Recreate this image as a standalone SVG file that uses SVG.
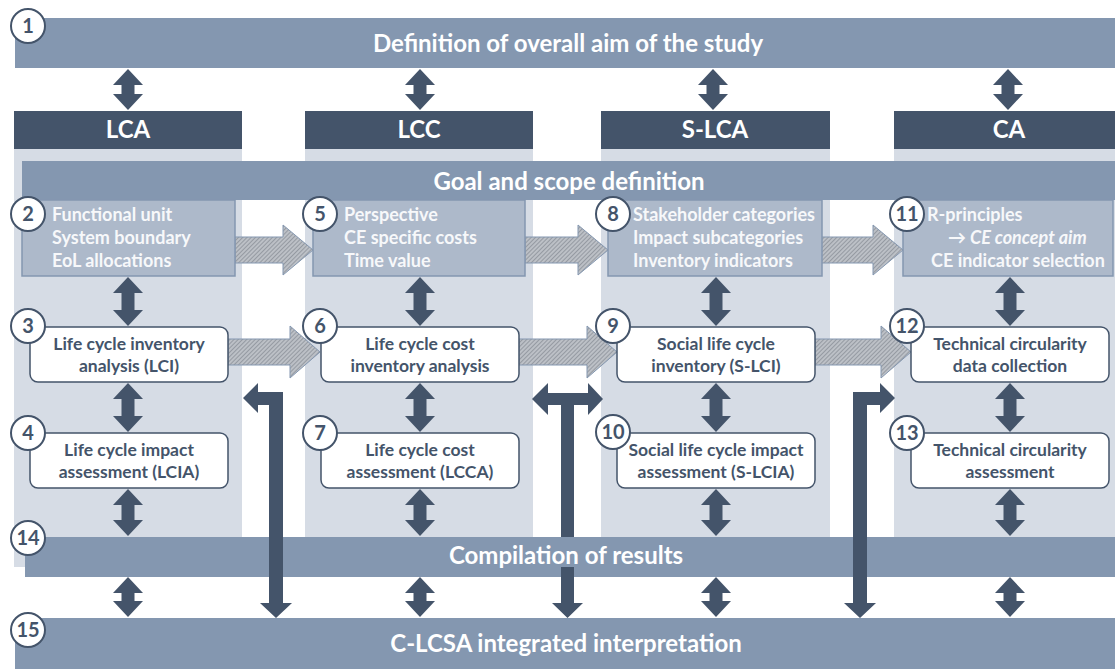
<svg xmlns="http://www.w3.org/2000/svg" width="1115" height="669" viewBox="0 0 1115 669">
<style>
text{font-family:Lato,"Open Sans","Liberation Sans",sans-serif;font-weight:700}
.bar{fill:#8497B0}
.hdr{fill:#44546A}
.col{fill:#D6DCE5}
.bt{fill:#FFFFFF;font-size:24px;text-anchor:middle}
.gbox{fill:#ADB9CA;stroke:#8497B0;stroke-width:1.5}
.gt{fill:#F7F8FA;font-size:18px}
.box{fill:#FFFFFF;stroke:#44546A;stroke-width:1.5}
.xt{fill:#44546A;font-size:17.5px;text-anchor:middle}
.num circle{fill:#FFFFFF;stroke:#44546A;stroke-width:2}
.num text{fill:#44546A;font-size:20px;text-anchor:middle}
.dark{fill:#44546A}
.hatch{fill:url(#hp);stroke:#8497B0;stroke-width:1}
</style>
<defs>
<pattern id="hp" width="3" height="3" patternUnits="userSpaceOnUse" patternTransform="rotate(45)">
<rect width="3" height="3" fill="#BCC0C6"/>
<line x1="0" y1="0" x2="0" y2="3" stroke="#7A8089" stroke-width="1.2"/>
</pattern>
<path id="da" d="M0,69 L15,85 L6.5,85 L6.5,94 L15,94 L0,110 L-15,94 L-6.5,94 L-6.5,85 L-15,85 Z"/>
<path id="db" d="M0,277 L15,293 L6.5,293 L6.5,310 L15,310 L0,326 L-15,310 L-6.5,310 L-6.5,293 L-15,293 Z"/>
<path id="dc" d="M0,383 L15,399 L6.5,399 L6.5,416 L15,416 L0,432 L-15,416 L-6.5,416 L-6.5,399 L-15,399 Z"/>
<path id="dd" d="M0,489 L15,505 L6.5,505 L6.5,520 L15,520 L0,536 L-15,520 L-6.5,520 L-6.5,505 L-15,505 Z"/>
<path id="de" d="M0,577 L15,593 L6.5,593 L6.5,601 L15,601 L0,617 L-15,601 L-6.5,601 L-6.5,593 L-15,593 Z"/>
</defs>

<rect width="1115" height="669" fill="#FFFFFF"/>

<g id="columns">
<rect class="col" x="14" y="149" width="228" height="418"/>
<rect class="col" x="305" y="149" width="228" height="418"/>
<rect class="col" x="601" y="149" width="229" height="418"/>
<rect class="col" x="894" y="149" width="221" height="418"/>
</g>

<g id="n1">
<rect class="bar" x="15" y="18" width="1100" height="50"/>
<text class="bt" x="568" y="52">Definition of overall aim of the study</text>
</g>

<g id="h-lca"><rect class="hdr" x="14" y="111" width="228" height="38"/><text class="bt" x="128" y="138">LCA</text></g>
<g id="h-lcc"><rect class="hdr" x="305" y="111" width="228" height="38"/><text class="bt" x="419" y="138">LCC</text></g>
<g id="h-slca"><rect class="hdr" x="601" y="111" width="229" height="38"/><text class="bt" x="715" y="138">S-LCA</text></g>
<g id="h-ca"><rect class="hdr" x="894" y="111" width="221" height="38"/><text class="bt" x="1009" y="138">CA</text></g>

<g id="goal">
<rect class="bar" x="22" y="161" width="1093" height="39"/>
<text class="bt" x="569" y="190">Goal and scope definition</text>
</g>

<g id="n14">
<rect class="bar" x="25" y="537" width="1090" height="40"/>
</g>
<g id="n15">
<rect class="bar" x="15" y="618" width="1100" height="51"/>
<text class="bt" x="566" y="652">C-LCSA integrated interpretation</text>
</g>

<g id="connectors">
<path class="hatch" d="M235,237 L283,237 L283,225 L313,250 L283,275 L283,263 L235,263 Z"/>
<path class="hatch" d="M525,237 L578,237 L578,225 L608,250 L578,275 L578,263 L525,263 Z"/>
<path class="hatch" d="M821,237 L873,237 L873,225 L903,250 L873,275 L873,263 L821,263 Z"/>
<path class="hatch" d="M228,339 L290,339 L290,326 L320,352 L290,378 L290,365 L228,365 Z"/>
<path class="hatch" d="M519,339 L587,339 L587,326 L617,352 L587,378 L587,365 L519,365 Z"/>
<path class="hatch" d="M815,339 L881,339 L881,326 L911,352 L881,378 L881,365 L815,365 Z"/>

<g class="dark">
<use href="#da" x="128"/><use href="#da" x="420"/><use href="#da" x="713"/><use href="#da" x="1008"/>
<use href="#db" x="128"/><use href="#db" x="420"/><use href="#db" x="716"/><use href="#db" x="1010"/>
<use href="#dc" x="128"/><use href="#dc" x="420"/><use href="#dc" x="716"/><use href="#dc" x="1010"/>
<use href="#dd" x="128"/><use href="#dd" x="420"/><use href="#dd" x="716"/><use href="#dd" x="1010"/>
<use href="#de" x="128"/><use href="#de" x="420"/><use href="#de" x="716"/><use href="#de" x="1010"/>
<path d="M243,398 L258,383 L258,392 L283,392 L283,603 L292,603 L276,618 L260,603 L269,603 L269,405 L258,405 L258,413 Z"/>
<path d="M532,399 L548,383 L548,393 L588,393 L588,383 L603,399 L588,415 L588,405 L574,405 L574,603 L583,603 L567.5,618 L552,603 L561,603 L561,405 L548,405 L548,415 Z"/>
<path d="M895,398 L880,383 L880,392 L853,392 L853,603 L844,603 L860,618 L876,603 L867,603 L867,405 L880,405 L880,413 Z"/>
</g>
</g>

<g id="n14-label">
<rect class="bar" x="440" y="537" width="252" height="30"/>
<text class="bt" x="566" y="564">Compilation of results</text>
</g>

<g id="n2">
<rect class="gbox" x="22" y="200" width="213" height="76"/>
<text class="gt" x="52" y="221">Functional unit</text>
<text class="gt" x="52" y="244">System boundary</text>
<text class="gt" x="52" y="267">EoL allocations</text>
</g>
<g id="n5">
<rect class="gbox" x="313" y="200" width="212" height="76"/>
<text class="gt" x="344" y="221">Perspective</text>
<text class="gt" x="344" y="244">CE specific costs</text>
<text class="gt" x="344" y="267">Time value</text>
</g>
<g id="n8">
<rect class="gbox" x="608" y="200" width="214" height="76"/>
<text class="gt" x="633" y="221">Stakeholder categories</text>
<text class="gt" x="633" y="244">Impact subcategories</text>
<text class="gt" x="633" y="267">Inventory indicators</text>
</g>
<g id="n11">
<rect class="gbox" x="903" y="200" width="210" height="76"/>
<text class="gt" x="927" y="221">R-principles</text>
<text class="gt" x="948" y="244">→<tspan font-style="italic"> CE concept aim</tspan></text>
<text class="gt" x="931" y="267">CE indicator selection</text>
</g>

<g id="n3"><rect class="box" x="30" y="327" width="198" height="55" rx="8"/><text class="xt" x="129" y="350">Life cycle inventory</text><text class="xt" x="129" y="372">analysis (LCI)</text></g>
<g id="n4"><rect class="box" x="30" y="433" width="198" height="55" rx="8"/><text class="xt" x="129" y="456">Life cycle impact</text><text class="xt" x="129" y="478">assessment (LCIA)</text></g>
<g id="n6"><rect class="box" x="321" y="327" width="198" height="55" rx="8"/><text class="xt" x="420" y="350">Life cycle cost</text><text class="xt" x="420" y="372">inventory analysis</text></g>
<g id="n7"><rect class="box" x="321" y="433" width="198" height="55" rx="8"/><text class="xt" x="420" y="456">Life cycle cost</text><text class="xt" x="420" y="478">assessment (LCCA)</text></g>
<g id="n9"><rect class="box" x="617" y="327" width="198" height="55" rx="8"/><text class="xt" x="716" y="350">Social life cycle</text><text class="xt" x="716" y="372">inventory (S-LCI)</text></g>
<g id="n10"><rect class="box" x="617" y="433" width="198" height="55" rx="8"/><text class="xt" x="716" y="456">Social life cycle impact</text><text class="xt" x="716" y="478">assessment (S-LCIA)</text></g>
<g id="n12"><rect class="box" x="911" y="327" width="198" height="55" rx="8"/><text class="xt" x="1010" y="350">Technical circularity</text><text class="xt" x="1010" y="372">data collection</text></g>
<g id="n13"><rect class="box" x="911" y="433" width="198" height="55" rx="8"/><text class="xt" x="1010" y="456">Technical circularity</text><text class="xt" x="1010" y="478">assessment</text></g>

<g class="num">
<g id="c1"><circle cx="28" cy="26" r="17"/><text x="28" y="33">1</text></g>
<g id="c2"><circle cx="28" cy="214" r="17"/><text x="28" y="221">2</text></g>
<g id="c3"><circle cx="28" cy="326" r="17"/><text x="28" y="333">3</text></g>
<g id="c4"><circle cx="28" cy="433" r="17"/><text x="28" y="440">4</text></g>
<g id="c5"><circle cx="320" cy="214" r="17"/><text x="320" y="221">5</text></g>
<g id="c6"><circle cx="320" cy="326" r="17"/><text x="320" y="333">6</text></g>
<g id="c7"><circle cx="320" cy="433" r="17"/><text x="320" y="440">7</text></g>
<g id="c8"><circle cx="613" cy="214" r="17"/><text x="613" y="221">8</text></g>
<g id="c9"><circle cx="613" cy="326" r="17"/><text x="613" y="333">9</text></g>
<g id="c10"><circle cx="613" cy="432" r="17"/><text x="613" y="439">10</text></g>
<g id="c11"><circle cx="907" cy="214" r="17"/><text x="907" y="221">11</text></g>
<g id="c12"><circle cx="907" cy="326" r="17"/><text x="907" y="333">12</text></g>
<g id="c13"><circle cx="907" cy="433" r="17"/><text x="907" y="440">13</text></g>
<g id="c14"><circle cx="28" cy="538" r="17"/><text x="28" y="545">14</text></g>
<g id="c15"><circle cx="28" cy="630" r="17"/><text x="28" y="637">15</text></g>
</g>
</svg>
